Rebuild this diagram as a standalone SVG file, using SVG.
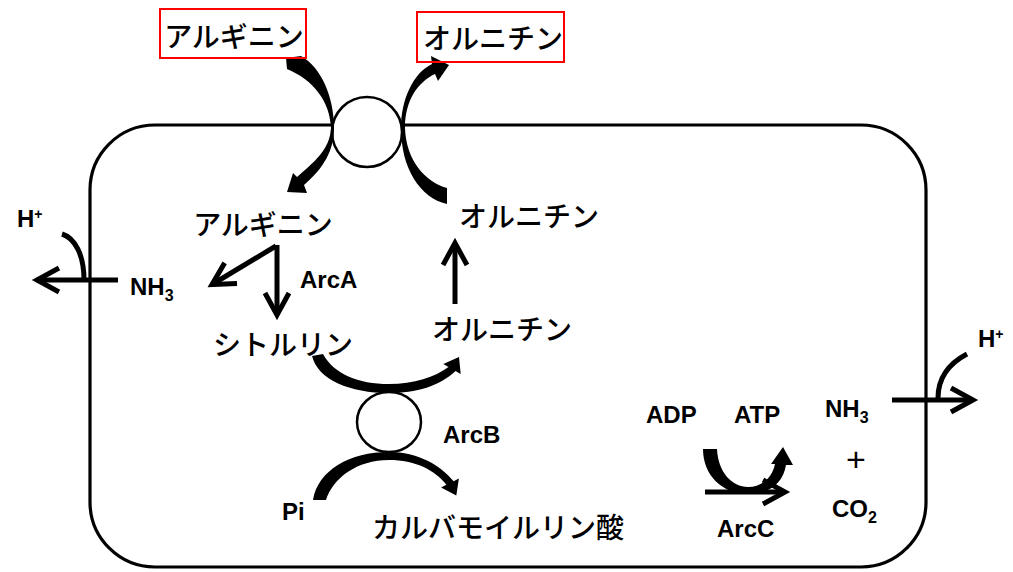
<svg xmlns="http://www.w3.org/2000/svg" width="1013" height="572" viewBox="0 0 1013 572">
<defs>
<marker id="chev" viewBox="-30 -16 36 32" markerWidth="36" markerHeight="32" refX="0" refY="0" orient="auto" markerUnits="userSpaceOnUse" overflow="visible">
<path d="M -22,-12 L 0,0 L -22,12" fill="none" stroke="#000" stroke-width="5" stroke-linejoin="miter"/>
</marker>
<style>
.jp{font-family:"Noto Sans CJK JP","Noto Sans CJK SC",sans-serif;font-weight:500;font-size:28px;fill:#000;text-anchor:middle}
.lt{font-family:"Liberation Sans",Arial,sans-serif;font-weight:bold;font-size:24px;fill:#000}
.sub{font-size:16px}
.sup{font-size:14px}
.box{fill:none;stroke:#FF0000;stroke-width:2}
.line{fill:none;stroke:#000;stroke-width:5}
.arr{marker-end:url(#chev)}
.band{fill:#000;stroke:none}
.memb{fill:none;stroke:#000;stroke-width:3.2}
.port{fill:#fff;stroke:#000;stroke-width:2.5}
</style>
</defs>
<rect width="1013" height="572" fill="#fff"/>
<g id="cell">
<rect class="memb" x="90" y="125" width="836" height="442" rx="65" ry="65"/>
</g>
<g id="transporter-top"><circle class="port" cx="367" cy="132" r="35"/></g>
<g id="transporter-arcb"><ellipse class="port" cx="389" cy="422" rx="32" ry="30"/></g>
<g id="connectors">
<path class="band" d="M 286,58 L 301,56 C 322,68 334,98 334,128 C 334,150 324,168 304,185 L 307,193 L 287,192 L 293,173 L 297,177 C 313,163 330,150 331,128 C 330,102 314,80 287,69 Z"/>
<path class="band" d="M 447,188 C 425,182 406,160 405,128 C 405,100 418,82 435,74 L 438,81 L 449,65 L 431,56 L 432,64 C 413,73 401,100 401,128 C 401,168 420,198 447,204 Z"/>
<path class="band" d="M 323,354 C 334,374 358,384 389,384 C 414,384 435,377 448.5,367 L 443.3,364 L 459,357 L 460.7,374 L 455.5,371 C 440,386 416,393 389,393 C 350,393 318,380 312,356 Z"/>
<path class="band" d="M 313,500 C 318,470 350,452 389,452 C 418,452 440,465 453.6,481.2 L 458.9,478.5 L 456.3,495.5 L 441.1,487.5 L 446.4,484.8 C 435,470 415,460 389,460 C 357,460 333,478 326,500 Z"/>
<path class="band" d="M 703,449 L 717,449 C 718,472 732,487 748,487 C 762,487 772,478 775,464 L 771,464 L 783,447 L 793,465 L 786,465 C 783,483 770,494 748,494 C 722,494 703,475 703,449 Z"/>
<path class="line arr" d="M 277,245 L 277,315"/>
<path class="line arr" d="M 276,246 L 212,284.5"/>
<path class="line arr" d="M 455,304 L 455,243"/>
<path class="line arr" d="M 118,280 L 37,280"/>
<path class="line" d="M 62,234 C 75,238 84,255 84,280"/>
<path class="line arr" d="M 892,400 L 973,400"/>
<path class="line" d="M 967,354 C 948,364 938,378 938,398"/>
<path class="line arr" d="M 705,492 L 785,492"/>
</g>
<g id="arginine-out"><rect class="box" x="160" y="9" width="146" height="49"/><text class="jp" x="234" y="47">アルギニン</text></g>
<g id="ornithine-out"><rect class="box" x="417" y="12" width="147" height="50"/><text class="jp" x="493" y="49">オルニチン</text></g>
<g id="arginine-in"><text class="jp" x="263" y="235">アルギニン</text></g>
<g id="ornithine-in"><text class="jp" x="529" y="227">オルニチン</text></g>
<g id="ornithine-mid"><text class="jp" x="502" y="340">オルニチン</text></g>
<g id="citrulline"><text class="jp" x="283" y="355">シトルリン</text></g>
<g id="carbamoyl-phosphate"><text class="jp" x="498" y="538">カルバモイルリン酸</text></g>
<g id="arca"><text class="lt" x="300" y="288">ArcA</text></g>
<g id="arcb"><text class="lt" x="443" y="443">ArcB</text></g>
<g id="arcc"><text class="lt" x="717" y="537">ArcC</text></g>
<g id="nh3-left"><text class="lt" x="130" y="295">NH<tspan class="sub" dy="6">3</tspan></text></g>
<g id="h-left"><text class="lt" x="17" y="227" font-size="19">H<tspan class="sup" dy="-8">+</tspan></text></g>
<g id="pi"><text class="lt" x="282" y="520">Pi</text></g>
<g id="adp"><text class="lt" x="646" y="423">ADP</text></g>
<g id="atp"><text class="lt" x="734" y="423">ATP</text></g>
<g id="nh3-right"><text class="lt" x="825" y="417">NH<tspan class="sub" dy="6">3</tspan></text></g>
<g id="plus"><text x="856" y="471" font-family="Liberation Sans,Arial,sans-serif" font-size="34" text-anchor="middle">+</text></g>
<g id="co2"><text class="lt" x="832" y="517">CO<tspan class="sub" dy="6">2</tspan></text></g>
<g id="h-right"><text class="lt" x="978" y="347" font-size="19">H<tspan class="sup" dy="-8">+</tspan></text></g>
</svg>
